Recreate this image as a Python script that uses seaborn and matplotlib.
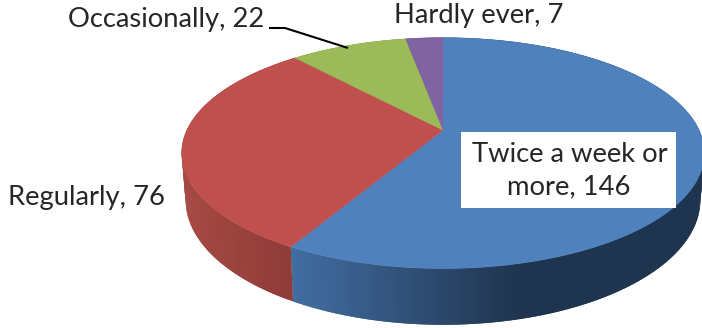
import numpy as np
import matplotlib
matplotlib.use("Agg")
import matplotlib.pyplot as plt
from matplotlib.colors import to_rgb
import seaborn as sns

categories = ["Twice a week or more", "Regularly", "Occasionally", "Hardly ever"]
values = [146, 76, 22, 7]
colors = ["#4F81BD", "#C0504D", "#9BBB59", "#8064A2"]

sns.set_theme(style="white")
plt.rcParams['font.family'] = ['Lato', 'DejaVu Sans']
fig = plt.figure(figsize=(7.02, 3.28), dpi=100)
ax = fig.add_axes([0, 0, 1, 1])
ax.set_xlim(0, 702)
ax.set_ylim(328, 0)
ax.axis("off")

CX, CY, RX, RY, K, DEPTH, SHRINK = 443, 130, 256, 110.8, 0.2, 45, 0.985


def project(theta, bottom=False):
    """theta: clockwise from 12 o'clock, radians."""
    u, v = np.sin(theta), np.cos(theta)
    w = 1 + K * v
    s, drop = (SHRINK, DEPTH) if bottom else (1.0, 0.0)
    return CX + s * RX * u / w, CY - RY * v / w + drop / w


def mix(a, b, t):
    a, b = np.array(to_rgb(a)), np.array(to_rgb(b))
    return tuple(a + (b - a) * np.clip(t, 0, 1))


def side_color(i, x):
    if i == 0:
        return mix("#426DA1", "#1F344E", (x - 295) / 225)
    if i == 1:
        return mix("#A64A43", "#8E3B38", (x - 185) / 108)
    return mix(colors[i], "#404040", 0.4)


edges = np.concatenate([[0], np.cumsum(values)]) / np.sum(values) * 2 * np.pi

# side wall, in overlapping strips so no seams show
for i in range(len(values)):
    t = np.linspace(edges[i], edges[i + 1], max(4, int((edges[i + 1] - edges[i]) * 60)))
    for j in range(len(t) - 1):
        a, b = t[j], t[min(j + 2, len(t) - 1)]
        sub = np.linspace(a, b, 6)
        xt, yt = project(sub)
        xb, yb = project(sub[::-1], bottom=True)
        c = side_color(i, np.mean(project(t[j:j + 2])[0]))
        ax.fill(np.r_[xt, xb], np.r_[yt, yb], color=c, lw=0, zorder=1)

# top face
for i in range(len(values)):
    t = np.linspace(edges[i], edges[i + 1], 200)
    x, y = project(t)
    ax.fill(np.r_[CX, x], np.r_[CY, y], color=colors[i], lw=0.4, ec=colors[i], zorder=2)

# labels
fs = 19.7
ax.fill([461, 676, 676, 461], [132, 132, 208, 208], color="white", lw=0, zorder=3)
lab = dict(color="#262626", fontsize=fs, zorder=4, va="center", ha="left")
ax.text(472, 154, "Twice a week or", **lab)
ax.text(568.5, 187, f"more, {values[0]}", color="#262626", fontsize=fs, zorder=4, va="center", ha="center")
ax.text(8, 198, f"{categories[1]}, {values[1]}", **lab)
ax.text(68, 20, f"{categories[2]}, {values[2]}", **lab)
ax.text(394, 16, f"{categories[3]}, {values[3]}", **lab)
ax.plot([269, 285, 348], [28, 28, 48], color="black", lw=1.5, zorder=4, solid_capstyle="butt")

fig.savefig("out.png", dpi=100)
